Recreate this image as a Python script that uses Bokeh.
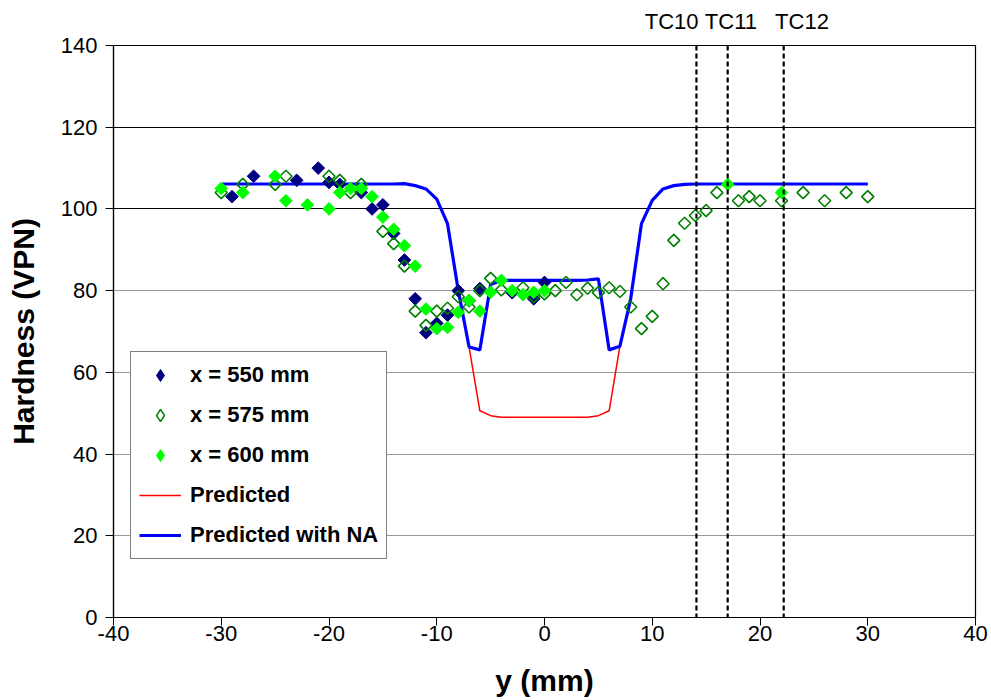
from bokeh.plotting import figure
from bokeh.models import (Legend, LegendItem, Span, FixedTicker, Grid, LinearAxis)
from bokeh.embed import file_html
from bokeh.resources import INLINE
import math

# ---------------- data ----------------
x550 = [-29, -27, -23, -21, -20, -19, -17, -16, -15, -14, -13, -12, -11, -10, -9, -8, -7, -6, -3, -1, 0]
h550 = [103, 108, 107, 110, 106.5, 106, 104, 100, 101, 94, 87.5, 78, 69.7, 72, 74, 80, 77.5, 80.5, 79.5, 78, 82]

x575 = [-30, -28, -25, -24, -20, -19, -18, -17, -15, -14, -13, -12, -11, -10, -9, -8, -7, -6, -5, -4,
        -2, -1, 0, 1, 2, 3, 4, 5, 6, 7, 8, 9, 10, 11, 12, 13, 14, 15, 16, 18, 19, 20, 22, 24, 26, 28, 30]
h575 = [104, 106, 106, 108, 108, 107, 104, 106, 94.5, 91.5, 86, 75, 71.5, 75, 75.7, 78.5, 76, 80, 83, 80.2,
        80.7, 78.5, 79.2, 80, 82, 79, 80.6, 79.5, 80.7, 79.8, 76, 70.7, 73.7, 81.7, 92.3, 96.5, 98.4, 99.6, 104,
        102, 103, 102, 102, 104, 102, 104, 103]

x600 = [-30, -28, -25, -24, -22, -20, -19, -18, -17, -16, -15, -14, -13, -12, -11, -10, -9, -8, -7, -6,
        -5, -4, -3, -2, -1, 0, 17, 22]
h600 = [105, 104, 108, 102, 101, 100, 104, 105, 105, 103, 98, 95, 91, 86, 75.5, 70.7, 71, 74.7, 77.6, 75,
        79.6, 82.5, 80, 79, 79.6, 80, 106, 104]

y_pred = [-30, -29, -28, -27, -26, -25, -24, -23, -22, -21, -20, -19, -18, -17, -16, -15, -14, -13, -12, -11,
          -10, -9, -8, -7, -6, -5, -4, -3, -2, -1, 0, 1, 2, 3, 4, 5, 6, 7, 8, 9,
          10, 11, 12, 13, 14, 15, 16, 17, 18, 19, 20, 21, 22, 23, 24, 25, 26, 27, 28, 29, 30]
h_pred_na = [106.1, 106.1, 106.1, 106.1, 106.1, 106.1, 106.1, 106.1, 106.1, 106.1, 106.1, 106.1, 106.1, 106.1,
             106.1, 106.1, 106.1, 106.2, 105.7, 104.9,
             102.4, 96.4, 80.0, 66.2, 65.5, 81.5, 82.5, 82.5, 82.5, 82.5, 82.5, 82.5, 82.5, 82.5, 82.6, 82.9,
             65.5, 66.4, 78.0, 96.4,
             102.1, 104.9, 105.7, 106.0, 106.1, 106.1, 106.1, 106.1, 106.1, 106.1, 106.1, 106.1, 106.1, 106.1,
             106.1, 106.1, 106.1, 106.1, 106.1, 106.1, 106.1]
h_pred = [106.1, 106.1, 106.1, 106.1, 106.1, 106.1, 106.1, 106.1, 106.1, 106.1, 106.1, 106.1, 106.1, 106.1,
          106.1, 106.1, 106.1, 106.2, 105.7, 104.9,
          102.4, 96.4, 80.0, 66.2, 50.6, 49.4, 49.0, 49.0, 49.0, 49.0, 49.0, 49.0, 49.0, 49.0, 49.0, 49.4,
          50.6, 66.4, 78.0, 96.4,
          102.1, 104.9, 105.7, 106.0, 106.1, 106.1, 106.1, 106.1, 106.1, 106.1, 106.1, 106.1, 106.1, 106.1,
          106.1, 106.1, 106.1, 106.1, 106.1, 106.1, 106.1]

tc_names = ["TC10", "TC11", "TC12"]
tc_y = [14.1, 17.0, 22.2]
tc_label_x = [11.8, 17.3, 23.9]

x_ticks = [-40, -30, -20, -10, 0, 10, 20, 30, 40]
y_ticks = [0, 20, 40, 60, 80, 100, 120, 140]

FONT = "Liberation Sans"
NAN = float("nan")

p = figure(width=991, height=700, output_backend="svg", toolbar_location=None,
           x_range=(-40, 40), y_range=(0, 140),
           min_border_left=113, min_border_right=16, min_border_top=45, min_border_bottom=83)
p.background_fill_color = "white"
p.border_fill_color = "white"
p.outline_line_color = "black"
p.outline_line_width = 1.2

p.xgrid.visible = False
p.ygrid.visible = False
p.add_layout(Grid(dimension=1, ticker=FixedTicker(ticks=[100, 120]), grid_line_color="black", grid_line_width=1))
p.add_layout(Grid(dimension=1, ticker=FixedTicker(ticks=[20, 40, 60, 80]), grid_line_color="#999999", grid_line_width=1))

for ax in (p.xaxis[0], p.yaxis[0]):
    ax.axis_line_color = "black"
    ax.axis_line_width = 1.2
    ax.major_tick_line_color = "black"
    ax.major_tick_out = 8
    ax.major_tick_in = 0
    ax.minor_tick_line_color = None
    ax.major_label_text_font = FONT
    ax.major_label_text_font_size = "22px"
    ax.major_label_text_color = "black"
    ax.axis_label_text_font = FONT
    ax.axis_label_text_font_size = "30px"
    ax.axis_label_text_font_style = "bold"
    ax.axis_label_text_color = "black"

p.xaxis.ticker = FixedTicker(ticks=x_ticks)
p.yaxis.ticker = FixedTicker(ticks=y_ticks)
p.xaxis.major_label_overrides = {t: str(t) for t in x_ticks}
p.xaxis.axis_label = "y (mm)"
p.yaxis.axis_label = "Hardness (VPN)"
p.xaxis.major_label_standoff = 0
p.yaxis.major_label_standoff = 8
p.xaxis.axis_label_standoff = 20
p.yaxis.axis_label_standoff = 18

# TC labels on an extra top axis
top = LinearAxis(ticker=FixedTicker(ticks=tc_label_x),
                 major_label_overrides={t: n for t, n in zip(tc_label_x, tc_names)})
top.axis_line_color = None
top.major_tick_line_color = None
top.minor_tick_line_color = None
top.major_tick_out = 0
top.major_tick_in = 0
top.major_label_standoff = 12
top.major_label_text_font = FONT
top.major_label_text_font_size = "22px"
top.major_label_text_color = "black"
p.add_layout(top, "above")

# TC dashed lines
for xv in tc_y:
    p.add_layout(Span(location=xv, dimension="height", line_color="black", line_width=2.2, line_dash="5 3"))

r_pred = p.line(y_pred, h_pred, line_color="red", line_width=1.5)
r_na = p.line(y_pred, h_pred_na, line_color="#0000FF", line_width=3.2)

ang = math.pi / 4
p.scatter(x550, h550, marker="square", angle=ang, size=9, fill_color="#000080", line_color="#000080")
p.scatter(x575, h575, marker="square", angle=ang, size=8.5, fill_color=None, line_color="#008000", line_width=1.6)
p.scatter(x600, h600, marker="square", angle=ang, size=9, fill_color="#00FF00", line_color="#00FF00")

# legend-only glyphs (a single NaN point, never drawn) so that the legend shows diamonds
l550 = p.scatter([NAN], [NAN], marker="diamond", size=15, fill_color="#000080", line_color="#000080")
l575 = p.scatter([NAN], [NAN], marker="diamond", size=14, fill_color=None, line_color="#008000", line_width=1.4)
l600 = p.scatter([NAN], [NAN], marker="diamond", size=15, fill_color="#00FF00", line_color="#00FF00")

legend = Legend(items=[
    LegendItem(label="x = 550 mm", renderers=[l550]),
    LegendItem(label="x = 575 mm", renderers=[l575]),
    LegendItem(label="x = 600 mm", renderers=[l600]),
    LegendItem(label="Predicted", renderers=[r_pred]),
    LegendItem(label="Predicted with NA", renderers=[r_na]),
], location=(17, 58))
legend.margin = 0
legend.padding = 8
legend.spacing = 10
legend.glyph_width = 42
legend.glyph_height = 30
legend.label_height = 30
legend.label_standoff = 9
legend.label_text_font = FONT
legend.label_text_font_size = "22px"
legend.label_text_font_style = "bold"
legend.label_text_color = "black"
legend.border_line_color = "black"
legend.border_line_width = 1
legend.background_fill_color = "white"
legend.background_fill_alpha = 1
p.add_layout(legend)

open("out.html", "w").write(file_html(p, INLINE))
